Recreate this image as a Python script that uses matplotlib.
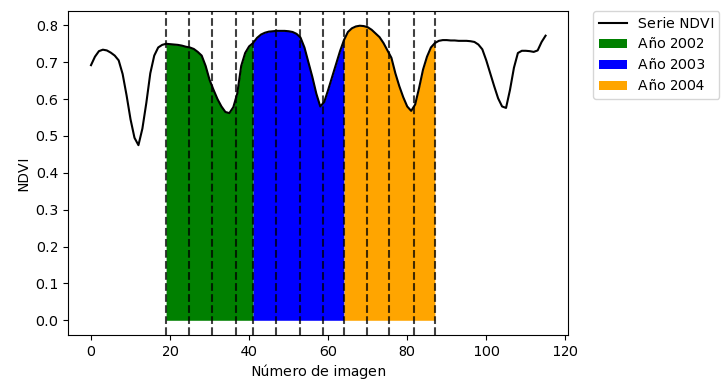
import matplotlib
matplotlib.use("Agg")
import matplotlib.pyplot as plt
import numpy as np

# older-style text rendering (slightly wider glyph spacing)
plt.rcParams["text.hinting_factor"] = 1
plt.rcParams["text.kerning_factor"] = 6

# NDVI value per image (images 0..115)
ndvi = [
    0.692, 0.715, 0.730, 0.734, 0.732, 0.726, 0.718, 0.705, 0.668, 0.610,
    0.545, 0.495, 0.475, 0.520, 0.590, 0.670, 0.718, 0.740, 0.747, 0.750,
    0.749, 0.748, 0.747, 0.745, 0.742, 0.740, 0.736, 0.728, 0.718, 0.690,
    0.652, 0.625, 0.600, 0.580, 0.565, 0.562, 0.578, 0.615, 0.690, 0.725,
    0.743, 0.752, 0.766, 0.775, 0.780, 0.783, 0.784, 0.785, 0.785, 0.785,
    0.784, 0.782, 0.777, 0.767, 0.740, 0.700, 0.660, 0.615, 0.580, 0.592,
    0.625, 0.660, 0.695, 0.730, 0.760, 0.782, 0.792, 0.797, 0.799, 0.798,
    0.795, 0.788, 0.778, 0.768, 0.752, 0.732, 0.712, 0.670, 0.635, 0.605,
    0.580, 0.568, 0.585, 0.630, 0.680, 0.715, 0.740, 0.752, 0.758, 0.760,
    0.760, 0.759, 0.759, 0.758, 0.758, 0.758, 0.757, 0.755, 0.748, 0.735,
    0.705, 0.670, 0.635, 0.602, 0.580, 0.576, 0.625, 0.685, 0.725, 0.731,
    0.731, 0.730, 0.728, 0.732, 0.755, 0.772,
]
images = np.arange(len(ndvi))

years = ["Año 2002", "Año 2003", "Año 2004"]
year_start = [19, 41, 64]
year_end = [41, 64, 87]
year_colors = ["green", "blue", "orange"]

# dashed markers inside each year
cuts = [19, 24.7, 30.7, 36.7, 41, 46.8, 52.9, 58.6, 64, 69.9, 75.5, 81.6, 87]

fig = plt.figure(figsize=(7.21, 3.83), dpi=100)
ax = fig.add_axes([0.0947, 0.1253, 0.6935, 0.846])

ndvi = np.array(ndvi)
ax.plot(images, ndvi, color="k", lw=1.5, label="Serie NDVI", zorder=3)

for name, a, b, c in zip(years, year_start, year_end, year_colors):
    mask = (images >= a) & (images <= b)
    ax.fill_between(images[mask], 0, ndvi[mask], color=c, label=name, lw=0, zorder=1)

for c in cuts:
    ax.axvline(c, color="k", linestyle="--", alpha=0.75, lw=1.5, zorder=2)

ax.set_xlabel("Número de imagen")
ax.set_ylabel("NDVI")
ax.legend(bbox_to_anchor=(1.05, 1), loc="upper left", borderaxespad=0)

fig.savefig("out.png", dpi=100)
